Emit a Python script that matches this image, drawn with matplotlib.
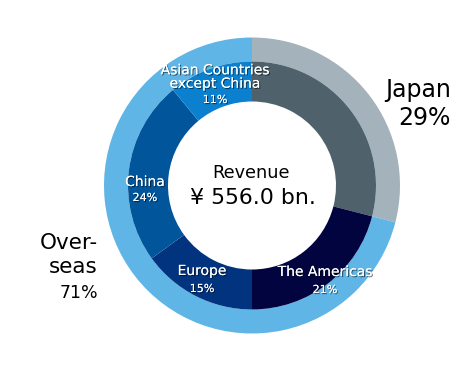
import matplotlib
matplotlib.use("Agg")
import matplotlib.pyplot as plt
import matplotlib.patheffects as pe

plt.rcParams['font.family'] = ['DejaVu Sans', 'Noto Sans CJK JP']

# Data
outer_labels = ["Japan", "Overseas"]
outer_values = [29, 71]
outer_colors = ["#a4b2bb", "#5fb5e5"]

inner_labels = ["Japan", "The Americas", "Europe", "China", "Asian Countries\nexcept China"]
inner_values = [29, 21, 15, 24, 11]
inner_colors = ["#4f616b", "#01043f", "#01337f", "#01559b", "#0a80cf"]

center_title = "Revenue"
center_value = "¥ 556.0 bn."

W, H = 477, 372
fig = plt.figure(figsize=(W / 100, H / 100), dpi=100)
ax = fig.add_axes([0, 0, 1, 1])

def P(x, y):
    return (x, H - y)

cx, cy = P(252, 185.5)
ax.pie(outer_values, colors=outer_colors, radius=148, center=(cx, cy),
       startangle=90, counterclock=False,
       wedgeprops=dict(width=24, linewidth=0), frame=True)
ax.pie(inner_values, colors=inner_colors, radius=124, center=(cx, cy),
       startangle=90, counterclock=False,
       wedgeprops=dict(width=40, linewidth=0), frame=True)
ax.set_xlim(0, W)
ax.set_ylim(0, H)
ax.set_aspect('equal')
ax.axis('off')

shadow = [pe.withSimplePatchShadow(offset=(0.8, -0.8), shadow_rgbFace='black', alpha=0.55), pe.Normal()]

def seg_label(name, pct, x, y, name_dy=16):
    ax.text(*P(x, y), name, color='white', fontsize=10, ha='center', va='center',
            linespacing=0.95, path_effects=shadow)
    ax.text(*P(x, y + name_dy), f"{pct}%", color='white', fontsize=8, ha='center',
            va='center', path_effects=shadow)

seg_label(inner_labels[4], inner_values[4], 215, 77, name_dy=23)
seg_label(inner_labels[3], inner_values[3], 145, 182, name_dy=16)
seg_label(inner_labels[2], inner_values[2], 202, 271, name_dy=18)
seg_label(inner_labels[1], inner_values[1], 325, 272, name_dy=18)

ax.text(*P(251, 173), center_title, fontsize=12.7, ha='center', va='center', color='black')
ax.text(*P(253, 198), center_value, fontsize=15.8, ha='center', va='center', color='black')

ax.text(*P(451, 90), outer_labels[0], fontsize=17, ha='right', va='center', color='black')
ax.text(*P(451, 118), f"{outer_values[0]}%", fontsize=17, ha='right', va='center', color='black')

ax.text(*P(98, 243), "Over-", fontsize=15.5, ha='right', va='center', color='black')
ax.text(*P(98, 267), "seas", fontsize=15.5, ha='right', va='center', color='black')
ax.text(*P(98, 293), f"{outer_values[1]}%", fontsize=12.5, ha='right', va='center', color='black')

fig.savefig("out.png", dpi=100, facecolor='white')
